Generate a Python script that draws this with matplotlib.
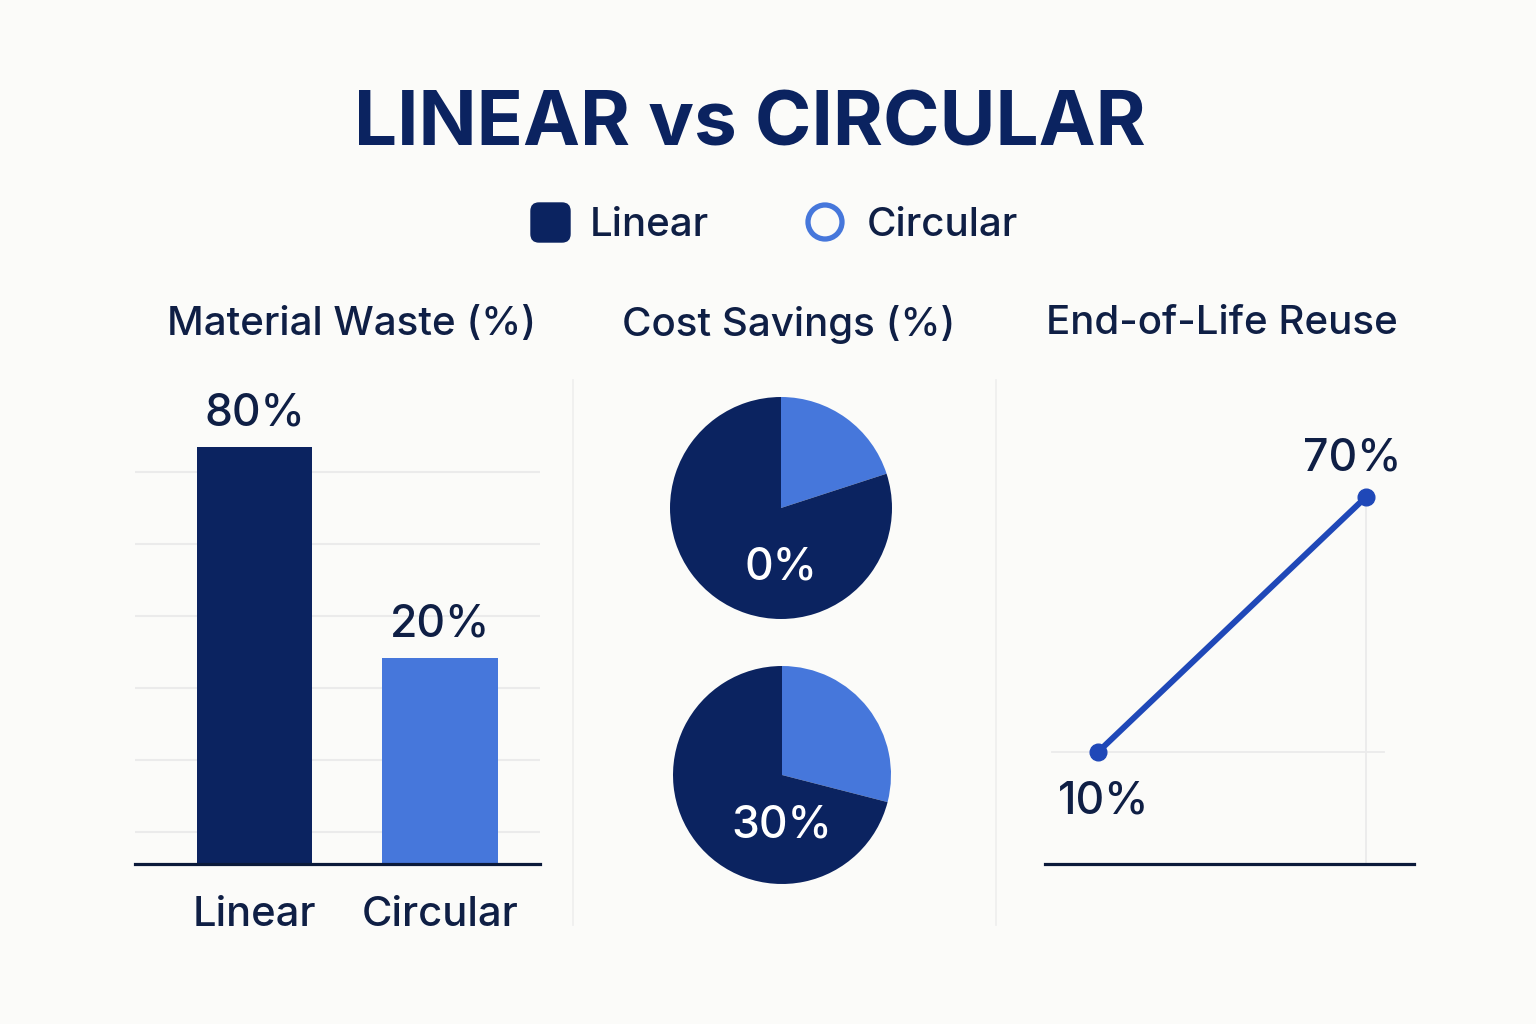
import numpy as np
import matplotlib
matplotlib.use("Agg")
import matplotlib.pyplot as plt
from matplotlib.patches import FancyBboxPatch, Circle

plt.rcParams['font.family'] = ['Inter', 'DejaVu Sans']
plt.rcParams['font.weight'] = 'medium'

# data
title = "LINEAR vs CIRCULAR"
series = ["Linear", "Circular"]

waste_cats = ["Linear", "Circular"]
waste_heights = [80, 39.5]          # bar heights as drawn
waste_labels = ["80%", "20%"]

savings_top = [20, 80]              # light / dark share of upper pie
savings_bottom = [29, 71]           # light / dark share of lower pie
savings_labels = ["0%", "30%"]

reuse_x = [0, 1]
reuse_y = [10, 70]
reuse_labels = ["10%", "70%"]

panel_titles = ["Material Waste (%)", "Cost Savings (%)", "End-of-Life Reuse"]

NAVY = "#0b2360"
LIGHT = "#4677db"
LINE = "#1f48b8"
TEXT = "#0f1f45"
BG = "#fbfbf9"
GRID = "#ebebeb"

W, H = 1536, 1024
fig = plt.figure(figsize=(W / 100, H / 100), dpi=100, facecolor=BG)


def rect(x0, y0, x1, y1):
    return [x0 / W, 1 - y1 / H, (x1 - x0) / W, (y1 - y0) / H]


# background layer for title, legend and separators
bg = fig.add_axes([0, 0, 1, 1])
bg.set_xlim(0, W)
bg.set_ylim(H, 0)
bg.axis("off")
bg.set_facecolor(BG)

bg.text(750, 126, title, ha="center", va="center", fontsize=55,
        fontweight="bold", color=NAVY)

bg.add_patch(FancyBboxPatch((534, 206), 33, 33, boxstyle="round,pad=3,rounding_size=8",
                            fc=NAVY, ec=NAVY))
bg.text(590, 225, series[0], ha="left", va="center", fontsize=29, color=TEXT)
bg.add_patch(Circle((825, 222), 17, fc="none", ec=LIGHT, lw=3.8))
bg.text(867, 225, series[1], ha="left", va="center", fontsize=29, color=TEXT)

for cx, t in zip([352, 789, 1222], panel_titles):
    bg.text(cx, 324, t, ha="center", va="center", fontsize=29, color=TEXT)

for sx in [573, 996]:
    bg.plot([sx, sx], [380, 925], color="#eeeeee", lw=1.2)

# panel 1: bars
ax1 = fig.add_axes(rect(135, 380, 540, 864))
ax1.set_facecolor("none")
xs = np.arange(len(waste_cats))
ax1.bar(xs, waste_heights, width=0.62, color=[NAVY, LIGHT], zorder=3)
ax1.set_xlim(-0.644, 1.539)
ax1.set_ylim(0, 92.85)
ax1.set_yticks(6.14 + 13.81 * np.arange(6))
ax1.yaxis.grid(True, color=GRID, lw=1.5, zorder=0)
ax1.tick_params(axis="y", left=False, labelleft=False)
ax1.set_xticks(xs, waste_cats)
ax1.tick_params(axis="x", length=0, pad=23, labelsize=30, labelcolor=TEXT)
for s in ["top", "right", "left"]:
    ax1.spines[s].set_visible(False)
ax1.spines["bottom"].set_color("#0b1a3a")
ax1.spines["bottom"].set_linewidth(2.3)
ax1.spines["bottom"].set_zorder(4)
for x, h, lab in zip(xs, waste_heights, waste_labels):
    ax1.annotate(lab, (x, h), xytext=(0, 24), textcoords="offset points",
                 ha="center", va="center", fontsize=32, color=TEXT)

# panel 2: pies
for (cx, cy, r), vals, lab, dy in zip([(781, 508, 111), (782, 775, 109)],
                                      [savings_top, savings_bottom],
                                      savings_labels, [59, 50]):
    axp = fig.add_axes(rect(cx - r, cy - r, cx + r, cy + r))
    axp.pie(vals, colors=[LIGHT, NAVY], startangle=90, counterclock=False,
            wedgeprops=dict(lw=0))
    axp.set_xlim(-1, 1)
    axp.set_ylim(-1, 1)
    axp.set_aspect("equal")
    axp.text(0, -dy / r, lab, ha="center", va="center", fontsize=32, color="white")

# panel 3: line
ax3 = fig.add_axes(rect(1045, 380, 1414, 864))
ax3.set_facecolor("none")
ax3.set_xlim(-0.198, 1.179)
ax3.set_ylim(-16.35, 97.5)
ax3.axhline(reuse_y[0], xmin=0.02, xmax=0.92, color=GRID, lw=1.3, zorder=0)
ax3.axvline(reuse_x[1], ymin=0, ymax=0.75, color=GRID, lw=1.3, zorder=0)
ax3.plot(reuse_x, reuse_y, color=LINE, lw=4.3, marker="o", ms=12,
         solid_capstyle="round", zorder=3)
for s in ["top", "right", "left"]:
    ax3.spines[s].set_visible(False)
ax3.spines["bottom"].set_color("#0b1a3a")
ax3.spines["bottom"].set_linewidth(2.3)
ax3.set_xticks([])
ax3.set_yticks([])
for x, y, lab, off in zip(reuse_x, reuse_y, reuse_labels, [(4, -36), (-10, 28)]):
    ax3.annotate(lab, (x, y), xytext=off, textcoords="offset points",
                 ha="center", va="center", fontsize=32, color=TEXT)

fig.savefig("out.png", dpi=100, facecolor=BG)
